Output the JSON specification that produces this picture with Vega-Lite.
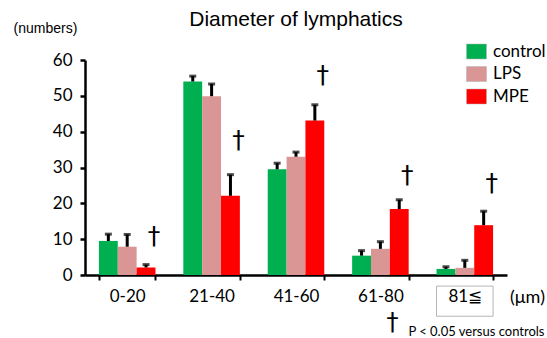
{
  "$schema": "https://vega.github.io/schema/vega-lite/v6.json",
  "autosize": "none",
  "width": 422,
  "height": 215,
  "padding": {"left": 85, "top": 60, "right": 40, "bottom": 63},
  "background": "white",
  "title": {"text": "Diameter of lymphatics", "font": "Liberation Sans", "fontSize": 21, "fontWeight": "normal", "color": "black", "anchor": "middle", "offset": -9},
  "config": {"view": {"stroke": null}, "axisY": {"tickCount": 7, "labelOverlap": false, "grid": false}},
  "datasets": {
    "bars": [
      {"group": "0-20", "cond": "control", "value": 9.5, "upper": 11.4},
      {"group": "0-20", "cond": "LPS", "value": 7.9, "upper": 11.3},
      {"group": "0-20", "cond": "MPE", "value": 2.1, "upper": 2.9},
      {"group": "21-40", "cond": "control", "value": 54.0, "upper": 55.5},
      {"group": "21-40", "cond": "LPS", "value": 49.9, "upper": 53.3},
      {"group": "21-40", "cond": "MPE", "value": 22.1, "upper": 28.0},
      {"group": "41-60", "cond": "control", "value": 29.5, "upper": 31.2},
      {"group": "41-60", "cond": "LPS", "value": 33.0, "upper": 34.3},
      {"group": "41-60", "cond": "MPE", "value": 43.1, "upper": 47.5},
      {"group": "61-80", "cond": "control", "value": 5.4, "upper": 6.8},
      {"group": "61-80", "cond": "LPS", "value": 7.3, "upper": 9.3},
      {"group": "61-80", "cond": "MPE", "value": 18.4, "upper": 21.0},
      {"group": "81≦", "cond": "control", "value": 1.7, "upper": 2.3},
      {"group": "81≦", "cond": "LPS", "value": 2.0, "upper": 4.1},
      {"group": "81≦", "cond": "MPE", "value": 13.9, "upper": 17.8}
    ],
    "daggers": [
      {"group": "0-20", "cond": "MPE", "y": 10.9, "mark": "†"},
      {"group": "21-40", "cond": "MPE", "y": 37.7, "mark": "†"},
      {"group": "41-60", "cond": "MPE", "y": 55.9, "mark": "†"},
      {"group": "61-80", "cond": "MPE", "y": 27.9, "mark": "†"},
      {"group": "81≦", "cond": "MPE", "y": 25.6, "mark": "†"}
    ],
    "box": [{"group": "81≦", "y": -3.1, "y2": -11.5}],
    "note": [{"group": "61-80", "y": -13.4, "mark": "†", "y2": -16.0, "text": "P < 0.05 versus controls"}]
  },
  "encoding": {
    "x": {
      "field": "group", "type": "nominal",
      "sort": ["0-20", "21-40", "41-60", "61-80", "81≦"],
      "scale": {"paddingInner": 0.33, "paddingOuter": 0.165},
      "axis": {
        "title": "(μm)", "titleFont": "Lato", "titleFontSize": 18, "titleFontWeight": "normal", "titleColor": "black",
        "titleX": 442, "titleY": 22, "titleAlign": "center", "titleBaseline": "middle",
        "labelAngle": 0, "labelFont": "Lato", "labelFontSize": 17, "labelColor": "black", "labelPadding": 8,
        "tickBand": "extent", "tickColor": "black", "tickWidth": 2, "tickSize": 5,
        "domainColor": "black", "domainWidth": 2.5
      }
    }
  },
  "layer": [
    {
      "data": {"name": "bars"},
      "mark": {"type": "bar"},
      "encoding": {
        "xOffset": {"field": "cond", "type": "nominal", "sort": ["control", "LPS", "MPE"]},
        "y": {
          "field": "value", "type": "quantitative",
          "scale": {"domain": [0, 60], "nice": false},
          "axis": {
            "title": "(numbers)", "titleFont": "Liberation Sans", "titleFontSize": 14, "titleFontWeight": "normal", "titleColor": "black",
            "titleAngle": 0, "titleX": -40, "titleY": -32, "titleAlign": "center", "titleBaseline": "middle",
            "values": [0, 10, 20, 30, 40, 50, 60], "grid": false, "labelOverlap": false, "tickCount": 7,
            "labelFont": "Lato", "labelFontSize": 17, "labelColor": "black", "labelPadding": 8,
            "tickColor": "black", "tickWidth": 2.5, "tickSize": 5,
            "domainColor": "black", "domainWidth": 2.5
          }
        },
        "color": {
          "field": "cond", "type": "nominal",
          "sort": ["control", "LPS", "MPE"],
          "scale": {"domain": ["control", "LPS", "MPE"], "range": ["#00B050", "#D99694", "#FF0000"]},
          "legend": {
            "title": null, "orient": "none", "legendX": 381, "legendY": -19,
            "symbolType": "M-1,-0.75H1V0.75H-1Z", "symbolSize": 400,
            "symbolStrokeColor": "#b0b0b0", "symbolStrokeWidth": 0.5,
            "labelFont": "Lato", "labelFontSize": 17, "labelColor": "black", "labelOffset": 6,
            "rowPadding": 3.5
          }
        }
      }
    },
    {
      "data": {"name": "bars"},
      "mark": {"type": "rule", "color": "black", "strokeWidth": 3},
      "encoding": {
        "xOffset": {"field": "cond", "type": "nominal", "sort": ["control", "LPS", "MPE"]},
        "y": {"field": "value", "type": "quantitative"},
        "y2": {"field": "upper"}
      }
    },
    {
      "data": {"name": "bars"},
      "mark": {"type": "tick", "color": "black", "thickness": 3, "size": 7, "orient": "horizontal"},
      "encoding": {
        "xOffset": {"field": "cond", "type": "nominal", "sort": ["control", "LPS", "MPE"]},
        "y": {"field": "upper", "type": "quantitative"}
      }
    },
    {
      "data": {"name": "daggers"},
      "mark": {"type": "text", "font": "DejaVu Sans", "fontSize": 25, "color": "black", "dx": 8, "baseline": "middle"},
      "encoding": {
        "xOffset": {"field": "cond", "type": "nominal", "scale": {"domain": ["control", "LPS", "MPE"]}},
        "y": {"field": "y", "type": "quantitative"},
        "text": {"field": "mark"}
      }
    },
    {
      "data": {"name": "box"},
      "mark": {"type": "rect", "fill": null, "fillOpacity": 0, "stroke": "#b5b5b5", "strokeWidth": 1},
      "encoding": {
        "y": {"field": "y", "type": "quantitative"},
        "y2": {"field": "y2"}
      }
    },
    {
      "data": {"name": "note"},
      "mark": {"type": "text", "font": "DejaVu Sans", "fontSize": 24, "color": "black", "dx": 12, "baseline": "middle"},
      "encoding": {
        "y": {"field": "y", "type": "quantitative"},
        "text": {"field": "mark"}
      }
    },
    {
      "data": {"name": "note"},
      "mark": {"type": "text", "font": "Lato", "fontSize": 13, "color": "black", "dx": 28, "align": "left", "baseline": "middle"},
      "encoding": {
        "y": {"field": "y2", "type": "quantitative"},
        "text": {"field": "text"}
      }
    }
  ]
}
